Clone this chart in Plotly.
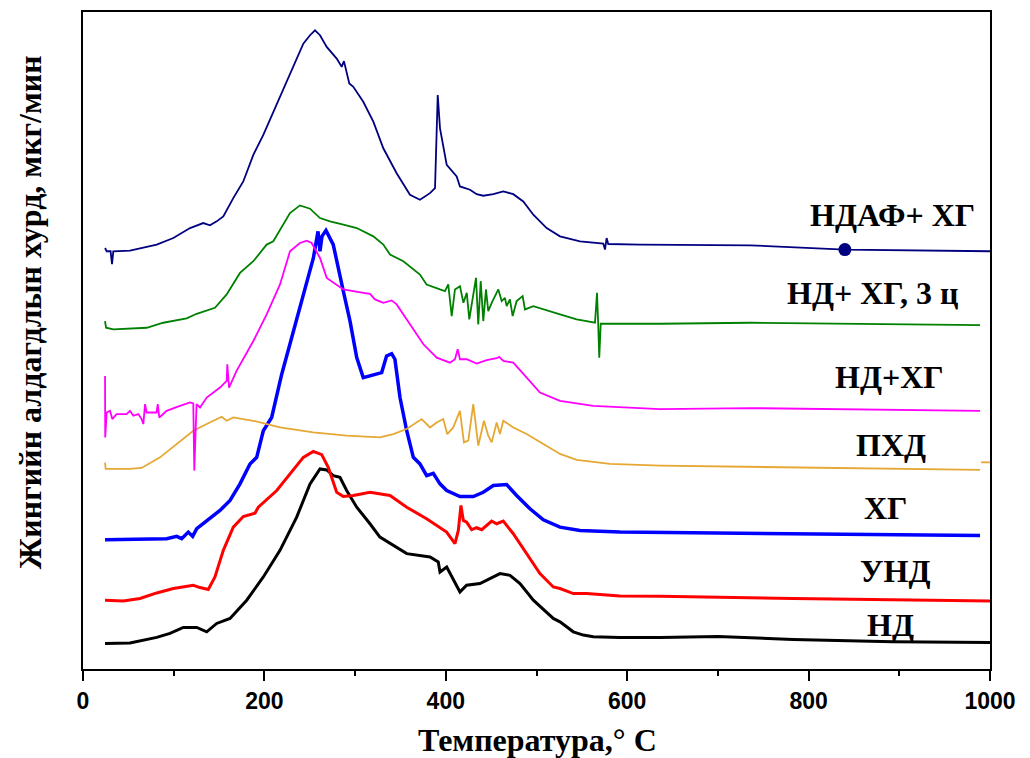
import plotly.graph_objects as go

# ---------------- data (temperature, °C ; rate, arbitrary offset units) ----------------
nd_T = [24.3, 51.8, 81.3, 95.9, 110.6, 125.4, 136.4, 147.4, 162.1, 180.5, 198.8, 217.2, 235.6, 250.3,
        261.3, 268.7, 276.0, 283.3, 290.7, 301.8, 316.4, 327.4, 356.9, 382.6, 391.7, 393.6, 401.0, 415.6,
        423.0, 437.7, 459.7, 470.8, 481.8, 496.5, 518.5, 525.9, 540.6, 551.6, 562.6, 592.0, 636.1, 700.0,
        782.8, 893.0, 1000.0]
nd_V = [25.7, 26.0, 31.7, 35.7, 41.7, 41.7, 37.3, 45.7, 50.7, 69.0, 92.3, 119.0, 152.3, 185.7,
        200.7, 199.7, 194.0, 192.3, 179.0, 162.3, 145.7, 132.3, 115.7, 112.3, 107.3, 97.3, 102.3, 77.3,
        84.0, 85.7, 95.7, 94.0, 85.7, 69.0, 50.7, 47.3, 37.3, 34.0, 32.3, 31.7, 31.7, 32.5,
        29.7, 27.3, 26.7]

und_T = [24.3, 44.4, 62.8, 81.3, 99.6, 121.6, 129.0, 138.1, 145.5, 154.7, 165.7, 176.7, 189.6, 193.3,
         213.6, 228.2, 242.9, 253.9, 263.2, 270.4, 279.7, 287.0, 298.0, 316.4, 338.5, 356.9, 378.8, 400.9,
         410.1, 413.8, 416.7, 419.3, 423.0, 428.5, 434.0, 439.6, 450.6, 456.1, 463.4, 474.4, 489.2, 503.8,
         518.5, 525.9, 540.6, 555.3, 592.0, 636.1, 782.8, 1000.0]
und_V = [69.0, 68.3, 70.7, 76.3, 80.7, 84.0, 81.7, 79.7, 92.3, 119.0, 142.3, 153.0, 156.3, 162.3,
         179.0, 195.7, 212.3, 218.3, 215.0, 202.3, 177.3, 173.0, 174.0, 177.3, 174.0, 162.3, 150.7, 137.3,
         125.7, 139.0, 164.0, 149.0, 147.3, 139.7, 141.7, 139.7, 148.3, 145.7, 148.3, 135.7, 115.7, 95.7,
         82.3, 80.7, 75.7, 75.7, 73.3, 73.0, 70.7, 68.3]

hg_T = [24.3, 62.8, 92.3, 103.3, 108.8, 116.1, 120.9, 125.4, 136.4, 151.0, 162.1, 173.1, 184.1, 191.5,
        198.8, 208.0, 219.1, 231.9, 246.6, 254.0, 259.1, 261.3, 263.5, 267.9, 275.9, 279.7, 287.0, 294.4,
        301.8, 309.0, 320.1, 329.3, 334.7, 340.3, 343.9, 349.5, 356.9, 364.2, 371.5, 378.9, 386.2, 393.6,
        401.0, 415.6, 430.3, 441.3, 452.4, 467.1, 478.1, 492.8, 507.5, 525.9, 548.0, 592.0, 989.0]
hg_V = [129.7, 130.7, 130.7, 133.0, 130.7, 137.3, 133.0, 140.7, 149.0, 159.0, 169.0, 185.7, 205.7, 212.3,
        239.0, 252.3, 295.7, 339.0, 385.7, 412.3, 439.0, 419.0, 434.0, 440.0, 425.7, 409.0, 379.0, 349.0,
        312.3, 292.3, 295.0, 297.3, 314.0, 316.3, 310.7, 272.3, 239.0, 212.3, 205.7, 194.0, 196.3, 185.7,
        179.0, 173.0, 173.0, 177.3, 184.0, 185.0, 174.0, 160.7, 149.7, 142.3, 139.0, 137.3, 134.0]

phd_T = [24.3, 25.0, 51.8, 64.7, 84.9, 103.3, 121.6, 136.4, 147.4, 152.9, 158.4, 165.7, 187.8, 217.2,
         253.9, 290.7, 327.4, 342.1, 356.8, 373.4, 382.6, 389.9, 397.2, 401.6, 408.2, 415.6, 420.0, 424.8,
         430.3, 435.8, 442.1, 446.8, 450.6, 456.1, 459.7, 463.4, 474.4, 489.1, 507.5, 525.9, 544.3, 581.0,
         636.1, 735.4, 989.0, None, 990.0, 1000.0]
phd_V = [207.0, 200.7, 200.7, 201.7, 212.3, 225.7, 239.0, 245.7, 250.7, 253.0, 249.0, 252.3, 249.0, 242.3,
         237.3, 234.0, 232.3, 235.7, 240.7, 250.7, 242.3, 247.3, 250.7, 235.7, 242.3, 259.0, 227.3, 229.0,
         265.7, 224.0, 249.0, 234.0, 227.3, 247.3, 235.7, 249.0, 242.3, 235.7, 225.7, 215.7, 209.7, 205.7,
         204.0, 203.0, 199.7, None, 207.3, 207.3]

ndhg_T = [24.3, 24.5, 26.1, 29.8, 32.3, 37.0, 48.1, 51.8, 55.5, 61.0, 64.6, 66.5, 68.4, 70.1,
          81.1, 82.4, 84.1, 92.2, 106.9, 118.0, 121.6, 122.7, 125.2, 129.0, 136.4, 151.0, 158.4, 159.1,
          161.0, 162.8, 169.3, 187.8, 202.5, 217.2, 228.2, 239.2, 246.6, 252.1, 261.3, 268.7, 287.0, 309.0,
          316.4, 321.9, 331.1, 340.3, 345.8, 360.5, 375.3, 390.0, 404.6, 410.1, 413.1, 415.6, 423.0, 434.0,
          445.0, 456.0, 458.9, 463.4, 474.4, 489.2, 503.8, 525.9, 562.6, 636.1, 735.4, 989.0]
ndhg_V = [294.0, 232.3, 257.3, 259.0, 250.7, 255.7, 255.7, 259.0, 254.0, 255.7, 250.7, 245.7, 265.7, 257.3,
          257.3, 265.7, 252.3, 259.0, 264.0, 267.3, 266.3, 199.0, 265.7, 262.3, 272.3, 282.3, 289.0, 305.7,
          282.3, 285.7, 299.0, 329.0, 355.7, 385.7, 419.0, 427.3, 429.7, 427.3, 412.3, 392.3, 380.7, 377.3,
          376.3, 370.7, 367.3, 369.7, 365.7, 345.7, 325.7, 312.3, 307.3, 310.7, 320.7, 310.7, 310.7, 306.3,
          309.7, 311.7, 313.0, 309.0, 307.3, 292.3, 277.3, 269.0, 264.0, 260.7, 261.7, 259.0]

ndhg3_T = [24.3, 25.4, 33.4, 70.2, 88.5, 114.3, 125.3, 145.5, 158.4, 173.1, 187.8, 202.5, 209.8, 228.2,
           239.2, 250.3, 261.3, 272.3, 287.0, 301.8, 320.1, 331.1, 338.5, 353.2, 371.5, 378.8, 393.6, 399.1,
           402.7, 406.5, 410.1, 415.6, 419.4, 423.1, 425.9, 430.3, 433.3, 435.8, 438.5, 441.3, 444.3, 446.8,
           450.6, 457.9, 461.6, 465.2, 467.1, 470.7, 473.7, 478.1, 484.7, 487.3, 496.5, 525.9, 544.3, 564.5,
           566.7, 568.1, 569.2, 570.8, 599.3, 636.1, 735.4, 989.0]
ndhg3_V = [349.0, 342.3, 340.7, 342.3, 347.3, 351.7, 356.3, 362.3, 375.7, 397.3, 409.0, 425.7, 429.0, 457.3,
           465.0, 461.7, 452.3, 449.0, 445.7, 442.3, 434.0, 425.7, 415.7, 409.0, 395.7, 385.7, 380.7, 379.0,
           385.7, 354.0, 380.7, 384.0, 367.3, 377.3, 350.7, 377.3, 392.3, 345.7, 389.0, 349.0, 380.7, 359.0,
           367.3, 380.7, 369.0, 372.3, 364.0, 370.7, 354.0, 369.0, 374.0, 360.7, 364.0, 355.7, 350.7, 347.3,
           377.3, 344.0, 312.3, 346.3, 346.3, 346.3, 347.3, 345.0]

ndaf_T = [24.3, 26.1, 30.4, 32.0, 33.4, 51.8, 81.3, 99.6, 118.0, 132.6, 140.0, 147.4, 154.7, 165.7,
          176.7, 187.8, 198.8, 209.8, 220.8, 231.9, 242.9, 250.3, 255.8, 261.3, 268.7, 279.7, 285.2, 287.7,
          290.7, 293.6, 298.0, 309.0, 320.1, 331.1, 345.8, 360.5, 371.5, 382.6, 388.1, 391.1, 393.6, 401.0,
          412.0, 415.6, 426.7, 434.0, 441.3, 452.4, 463.4, 474.4, 485.4, 496.5, 511.2, 525.9, 548.0, 573.6,
          575.5, 577.3, 579.1, 614.1, 735.4, 840.0, 1000.0]
ndaf_V = [422.3, 419.0, 419.0, 406.0, 419.0, 419.7, 425.7, 432.3, 442.3, 447.3, 445.0, 449.0, 454.0, 472.3,
          489.0, 515.7, 535.7, 559.0, 582.3, 605.7, 627.3, 635.7, 640.7, 635.7, 624.0, 612.3, 604.0, 609.7,
          599.0, 587.3, 584.0, 569.0, 549.0, 522.3, 497.3, 475.7, 470.7, 477.3, 482.3, 575.7, 542.3, 505.7,
          494.0, 484.0, 480.7, 476.3, 474.7, 476.3, 479.0, 476.3, 469.0, 455.7, 442.3, 434.0, 429.0, 426.7,
          420.7, 432.3, 426.3, 425.7, 425.0, 420.7, 419.0]

marker_T = [840.0]
marker_V = [420.7]

labels = ["НДАФ+ ХГ", "НД+ ХГ, 3 ц", "НД+ХГ", "ПХД", "ХГ", "УНД", "НД"]
label_T = [893, 870, 889, 891, 885, 895, 890]
label_V = [455, 377, 293, 225, 161, 98, 44]

x_ticks = [0, 200, 400, 600, 800, 1000]

# ---------------- figure ----------------
series = [
    (nd_T, nd_V, "#000000", 3.0),
    (und_T, und_V, "#ff0000", 3.0),
    (hg_T, hg_V, "#0000ff", 3.5),
    (phd_T, phd_V, "#e6a733", 1.8),
    (ndhg_T, ndhg_V, "#ff00ff", 1.8),
    (ndhg3_T, ndhg3_V, "#008000", 1.8),
    (ndaf_T, ndaf_V, "#000080", 1.8),
]

fig = go.Figure()
for T, V, c, w in series:
    fig.add_trace(go.Scatter(x=T, y=V, mode="lines", line=dict(color=c, width=w),
                             connectgaps=False, showlegend=False, hoverinfo="skip"))

fig.add_trace(go.Scatter(x=marker_T, y=marker_V, mode="markers",
                         marker=dict(color="#000080", size=13), showlegend=False))

serif = "Liberation Serif"
for txt, tx, ty in zip(labels, label_T, label_V):
    fig.add_annotation(x=tx, y=ty, text=txt, showarrow=False, xanchor="center", yanchor="middle",
                       font=dict(family=serif, size=32, color="black", weight="bold"))

fig.add_annotation(xref="paper", yref="paper", x=-0.0584, y=0.543,
                   text="Жингийн алдагдлын хурд, мкг/мин", textangle=-90, showarrow=False,
                   xanchor="center", yanchor="middle",
                   font=dict(family=serif, size=32, color="black", weight="bold"))
fig.add_annotation(xref="paper", yref="paper", x=0.5006, y=-0.108,
                   text="Температура,° С", showarrow=False,
                   xanchor="center", yanchor="middle",
                   font=dict(family=serif, size=32, color="black", weight="bold"))

fig.update_xaxes(range=[0, 1000], tickvals=x_ticks, ticktext=[str(v) for v in x_ticks],
                 showline=True, linewidth=2, linecolor="black", mirror=True,
                 ticks="outside", ticklen=10, tickwidth=2, tickcolor="black",
                 minor=dict(dtick=100, ticks="outside", ticklen=5, tickwidth=2, tickcolor="black"),
                 showgrid=False, zeroline=False,
                 tickfont=dict(family="Liberation Sans", size=23, color="black", weight="bold"))
fig.update_yaxes(range=[0, 659], showline=True, linewidth=2, linecolor="black", mirror=True,
                 showticklabels=False, ticks="", showgrid=False, zeroline=False)

fig.update_layout(width=1030, height=758, margin=dict(l=83, r=40, t=10, b=89),
                  plot_bgcolor="white", paper_bgcolor="white")

fig.write_html("out.html")
